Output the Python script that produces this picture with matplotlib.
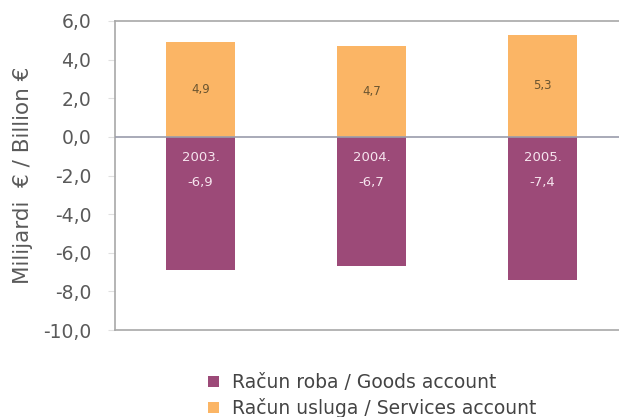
import matplotlib.pyplot as plt

plt.rcParams["font.family"] = ["DejaVu Sans"]

years = ["2003.", "2004.", "2005."]
goods = [-6.9, -6.7, -7.4]
services = [4.9, 4.7, 5.3]
y_ticks = [6, 4, 2, 0, -2, -4, -6, -8, -10]

GOODS_COLOR = "#9c4a78"
SERVICES_COLOR = "#fbb565"
AXIS_COLOR = "#a8a8a8"
TEXT_COLOR = "#5a5a5a"


def fmt(v):
    return f"{v:.1f}".replace(".", ",")


fig = plt.figure(figsize=(6.19, 4.17), dpi=100)
ax = fig.add_axes([115 / 619, 1 - 330 / 417, 513 / 619, 309 / 417])

x = list(range(len(years)))
ax.bar(x, goods, width=0.405, color=GOODS_COLOR, label="Račun roba / Goods account", zorder=2)
ax.bar(x, services, width=0.405, color=SERVICES_COLOR, label="Račun usluga / Services account", zorder=2)

for i in x:
    ax.text(i, services[i] / 2, fmt(services[i]), ha="center", va="center",
            fontsize=8.5, color="#6b5530", zorder=3)
    ax.text(i, -1.05, years[i], ha="center", va="center", fontsize=9.5, color="#f6e4ee", zorder=3)
    ax.text(i, -2.35, fmt(goods[i]), ha="center", va="center", fontsize=9.5, color="#f6e4ee", zorder=3)

ax.axhline(0, color="#9a9cab", linewidth=1.2, zorder=3)

ax.set_xlim(-0.5, 2.5)
ax.set_ylim(-10, 6)
ax.set_yticks(y_ticks)
ax.set_yticklabels([fmt(v) for v in y_ticks])
ax.set_xticks([])
ax.tick_params(axis="y", length=5, width=0.8, color="#e0e0e0", pad=12,
               labelsize=13.5, labelcolor=TEXT_COLOR)

for side in ["left", "top", "bottom", "right"]:
    ax.spines[side].set_color(AXIS_COLOR)
    ax.spines[side].set_linewidth(1.2)

fig.text(23 / 619, 1 - 175 / 417, "Milijardi  € / Billion €", rotation=90,
         ha="center", va="center", fontsize=15.5, color=TEXT_COLOR)

fig.legend(loc="upper left", bbox_to_anchor=(199 / 619, 1 - 364 / 417), frameon=False,
           fontsize=13.5, labelcolor="#444444", handlelength=0.55, handleheight=0.55,
           handletextpad=0.7, labelspacing=0.3, borderpad=0)

plt.savefig("out.png", dpi=100)
